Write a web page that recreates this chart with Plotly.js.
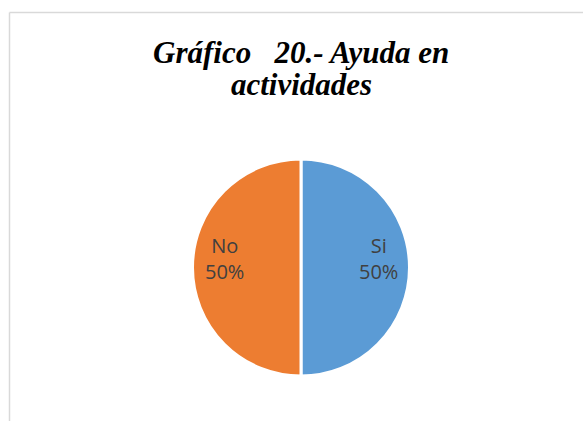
<!DOCTYPE html>
<html>
<head>
<meta charset="utf-8">
<script src="https://cdn.plot.ly/plotly-3.0.1.min.js"></script>
<style>
html,body{margin:0;padding:0;background:#fff;}
#chart{width:583px;height:421px;}
</style>
</head>
<body>
<div id="chart"></div>
<script>
var categories = ["Si", "No"];
var values = [50, 50];
var colors = ["#5B9BD5", "#ED7D31"];
var titleLines = ["Gráfico   20.- Ayuda en", "actividades"];

var W = 583, H = 421;
var cx = 301, cy = 267.5, R = 108.5;

var trace = {
  type: "pie",
  labels: categories,
  values: values,
  sort: false,
  direction: "clockwise",
  rotation: 0,
  marker: {colors: colors, line: {color: "#ffffff", width: 3}},
  textinfo: "none",
  hoverinfo: "none",
  showlegend: false,
  domain: {
    x: [(cx - R) / W, (cx + R) / W],
    y: [(H - cy - R) / H, (H - cy + R) / H]
  }
};

var annotations = [];
var titleY = [52.5, 84.5];
titleLines.forEach(function (t, i) {
  annotations.push({
    xref: "paper", yref: "paper",
    x: 301 / W, y: 1 - titleY[i] / H,
    xanchor: "center", yanchor: "middle",
    text: t,
    showarrow: false,
    font: {family: "Liberation Serif", size: 31, color: "#000000", weight: "bold", style: "italic"}
  });
});

var total = values.reduce(function (a, b) { return a + b; }, 0);
var labelPos = [{x: 378, y: 258}, {x: 224, y: 258}];
categories.forEach(function (c, i) {
  annotations.push({
    xref: "paper", yref: "paper",
    x: labelPos[i].x / W, y: 1 - labelPos[i].y / H,
    xanchor: "center", yanchor: "middle",
    text: c + "<br>" + Math.round(values[i] / total * 100) + "%",
    showarrow: false,
    font: {family: "Open Sans", size: 20, color: "#404040"}
  });
});

var layout = {
  width: W, height: H,
  margin: {l: 0, r: 0, t: 0, b: 0},
  paper_bgcolor: "#ffffff",
  showlegend: false,
  annotations: annotations,
  shapes: [
    {type: "line", xref: "paper", yref: "paper", x0: 9.5 / W, x1: 9.5 / W, y0: 0, y1: 1 - 12.5 / H, line: {color: "#D9D9D9", width: 1.5}},
    {type: "line", xref: "paper", yref: "paper", x0: 9.5 / W, x1: 1, y0: 1 - 12.5 / H, y1: 1 - 12.5 / H, line: {color: "#D9D9D9", width: 1.5}}
  ]
};

Plotly.newPlot("chart", [trace], layout, {displayModeBar: false, staticPlot: true});
</script>
</body>
</html>
